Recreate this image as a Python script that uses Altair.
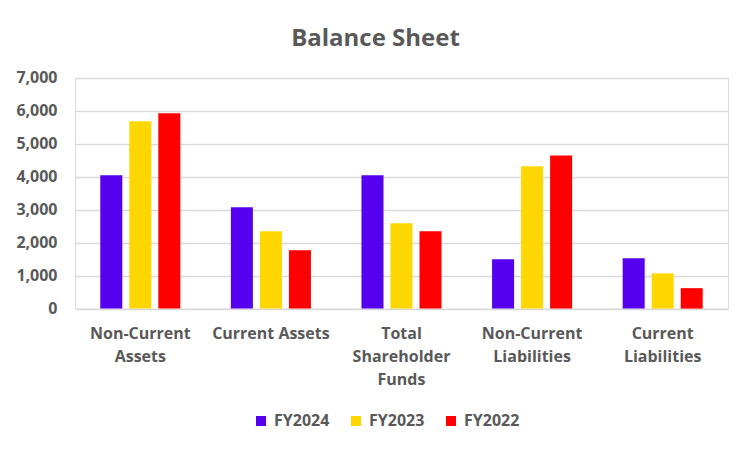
import altair as alt
import pandas as pd

categories = ["Non-Current Assets", "Current Assets", "Total Shareholder Funds",
              "Non-Current Liabilities", "Current Liabilities"]
label_lines = ["Non-Current|Assets", "Current Assets", "Total|Shareholder|Funds",
               "Non-Current|Liabilities", "Current|Liabilities"]
years = ["FY2024", "FY2023", "FY2022"]
fy2024 = [4050, 3080, 4050, 1500, 1530]
fy2023 = [5690, 2350, 2590, 4320, 1070]
fy2022 = [5930, 1770, 2350, 4650, 620]
colors = ["#5500EE", "#FFD700", "#FF0000"]

rows = []
for i, c in enumerate(categories):
    for y, vals in zip(years, [fy2024, fy2023, fy2022]):
        rows.append({"cat": label_lines[i], "year": y, "value": vals[i]})
df = pd.DataFrame(rows)

FONT = "Open Sans"
GRAY = "#595959"

chart = alt.Chart(df).mark_bar().encode(
    x=alt.X("cat:N", sort=label_lines,
            scale=alt.Scale(paddingInner=0.387, paddingOuter=0.1935),
            axis=alt.Axis(title=None, labelExpr="split(datum.label, '|')",
                          labelAngle=0, ticks=False, domain=False,
                          labelFont=FONT, labelFontSize=16, labelFontWeight="bold",
                          labelColor=GRAY, labelPadding=17, labelLineHeight=23,
                          labelBaseline="top")),
    xOffset=alt.XOffset("year:N", sort=years,
                        scale=alt.Scale(paddingInner=0.241, paddingOuter=0)),
    y=alt.Y("value:Q", scale=alt.Scale(domain=[0, 7000], nice=False),
            axis=alt.Axis(title=None, format=",.0f", values=list(range(0, 7001, 1000)),
                          ticks=False, domain=False, labelPadding=18,
                          labelFont=FONT, labelFontSize=16, labelFontWeight="bold",
                          labelColor=GRAY, gridColor="#D9D9D9", gridWidth=1.5)),
    color=alt.Color("year:N", sort=years,
                    scale=alt.Scale(domain=years, range=colors),
                    legend=alt.Legend(title=None, orient="none", direction="horizontal",
                                      legendX=178, legendY=335, symbolType="square",
                                      symbolSize=100, symbolStrokeWidth=0,
                                      labelFont=FONT, labelFontSize=16,
                                      labelFontWeight="bold", labelColor=GRAY,
                                      columnPadding=18, labelOffset=5)),
).properties(
    width=653, height=230.6,
    title=alt.TitleParams("Balance Sheet", font=FONT, fontSize=24, fontWeight="bold",
                          color=GRAY, anchor="middle", dx=-26, offset=19),
    autosize=alt.AutoSizeParams(type="none"),
    padding={"left": 67, "top": 70, "right": 16, "bottom": 136},
).configure_view(stroke=None).configure(background="white")

chart.save("out.html", embed_options={"renderer": "svg", "actions": False})
